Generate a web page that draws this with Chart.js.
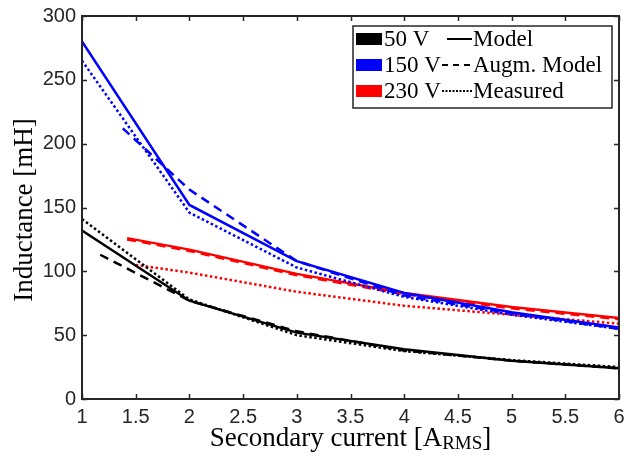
<!DOCTYPE html>
<html>
<head>
<meta charset="utf-8">
<script src="https://cdn.jsdelivr.net/npm/chart.js@4.4.0/dist/chart.umd.min.js"></script>
<style>
  html, body { margin: 0; padding: 0; background: #fff; }
  #wrap { width: 625px; height: 460px; }
</style>
</head>
<body>
<div id="wrap"><canvas id="myChart" width="625" height="460"></canvas></div>
<script>
// DATA
const currents = [1, 2, 3, 4, 5, 6];

const model50 = [132, 77, 52, 39, 30, 24];
const measured50 = [141, 78, 50, 37.5, 30.5, 25];
const augmX50 = [1.17, 2, 3, 4, 5, 6];
const augm50 = [113, 77, 53, 38, 30, 24];

const model150 = [280, 152, 108, 83, 68, 56];
const measured150 = [265, 146, 103, 80, 66, 55];
const augmX150 = [1.38, 2, 3, 4, 5, 6];
const augm150 = [212, 164, 108, 81, 67, 55];

const modelX230 = [1.42, 2, 3, 4, 5, 6];
const model230 = [126, 117, 98, 83, 72, 63.5];
const augm230 = [125, 116, 97, 82, 71, 62.5];
const measuredX230 = [1.5, 2, 3, 4, 5, 6];
const measured230 = [105, 99, 84, 73, 66, 59];

const voltageLabels = ['50 V', '150 V', '230 V'];
const voltageColors = ['#000000', '#0000ff', '#ff0000'];
const styleLabels = ['Model', 'Augm. Model', 'Measured'];

const DASHED = [9, 6];
const DOTTED = [2.5, 2.5];

const pts = (xs, ys) => xs.map((x, i) => ({ x: x, y: ys[i] }));

function line(xs, ys, color, dash) {
  return {
    data: pts(xs, ys),
    borderColor: color,
    backgroundColor: color,
    borderWidth: 2.5,
    borderDash: dash,
    pointRadius: 0,
    showLine: true,
    tension: 0,
    fill: false
  };
}

const data = {
  datasets: [
    line(currents, model50, voltageColors[0], []),
    line(augmX50, augm50, voltageColors[0], DASHED),
    line(currents, measured50, voltageColors[0], DOTTED),
    line(currents, model150, voltageColors[1], []),
    line(augmX150, augm150, voltageColors[1], DASHED),
    line(currents, measured150, voltageColors[1], DOTTED),
    line(modelX230, model230, voltageColors[2], []),
    line(modelX230, augm230, voltageColors[2], DASHED),
    line(measuredX230, measured230, voltageColors[2], DOTTED)
  ]
};

const AXIS = '#262626';
const SERIF = '"Liberation Serif", "DejaVu Serif", serif';
const SANS = '"Liberation Sans", Arial, sans-serif';

// box round the axes with inward ticks on all sides
const frame = {
  id: 'frame',
  afterDatasetsDraw(chart) {
    const { ctx, chartArea: { top, bottom, left, right }, scales: { x, y } } = chart;
    ctx.save();
    ctx.strokeStyle = AXIS;
    ctx.lineWidth = 1.5;
    const t = 5;
    x.ticks.forEach(tk => {
      const px = Math.round(x.getPixelForValue(tk.value)) + 0.5;
      ctx.beginPath();
      ctx.moveTo(px, bottom); ctx.lineTo(px, bottom - t);
      ctx.moveTo(px, top); ctx.lineTo(px, top + t);
      ctx.stroke();
    });
    y.ticks.forEach(tk => {
      const py = Math.round(y.getPixelForValue(tk.value)) + 0.5;
      ctx.beginPath();
      ctx.moveTo(left, py); ctx.lineTo(left + t, py);
      ctx.moveTo(right, py); ctx.lineTo(right - t, py);
      ctx.stroke();
    });
    ctx.lineWidth = 2;
    ctx.strokeRect(left, top, right - left, bottom - top);

    // axis titles
    ctx.fillStyle = '#000';
    ctx.textBaseline = 'alphabetic';
    const cx = (left + right) / 2;
    const a = 'Secondary current [A';
    const sub = 'RMS';
    const c = ']';
    ctx.font = '27px ' + SERIF;
    const wA = ctx.measureText(a).width;
    const wC = ctx.measureText(c).width;
    ctx.font = '19px ' + SERIF;
    const wS = ctx.measureText(sub).width;
    const sx = cx - (wA + wS + wC) / 2;
    const ty = 446;
    ctx.textAlign = 'left';
    ctx.font = '27px ' + SERIF;
    ctx.fillText(a, sx, ty);
    ctx.font = '19px ' + SERIF;
    ctx.fillText(sub, sx + wA, ty + 3);
    ctx.font = '27px ' + SERIF;
    ctx.fillText(c, sx + wA + wS, ty);

    ctx.translate(32, 210);
    ctx.rotate(-Math.PI / 2);
    ctx.textAlign = 'center';
    ctx.font = '27px ' + SERIF;
    ctx.fillText('Inductance [mH]', 0, 0);
    ctx.restore();
  }
};

// legend: colour swatches for voltage, line samples for model type
const legendBox = {
  id: 'legendBox',
  afterDraw(chart) {
    const { ctx } = chart;
    ctx.save();
    ctx.fillStyle = '#fff';
    ctx.fillRect(353, 26, 259, 82);
    ctx.strokeStyle = AXIS;
    ctx.lineWidth = 1.5;
    ctx.strokeRect(353, 26, 259, 82);
    ctx.font = '23px ' + SERIF;
    ctx.textBaseline = 'middle';
    ctx.textAlign = 'left';
    const rows = [39, 65, 91];
    const dashes = [[], [6, 5], [2, 1.5]];
    rows.forEach((ry, i) => {
      ctx.fillStyle = voltageColors[i];
      ctx.fillRect(356, ry - 6, 26, 12);
      ctx.fillStyle = '#000';
      ctx.fillText(voltageLabels[i], 384, ry + 1);
      ctx.beginPath();
      ctx.setLineDash(dashes[i]);
      ctx.strokeStyle = '#000';
      ctx.lineWidth = 2;
      ctx.moveTo(i === 0 ? 447 : 442, ry);
      ctx.lineTo(472, ry);
      ctx.stroke();
      ctx.setLineDash([]);
      ctx.fillText(styleLabels[i], 473, ry + 1);
    });
    ctx.restore();
  }
};

const config = {
  type: 'scatter',
  data,
  options: {
    responsive: false,
    animation: false,
    layout: { padding: { top: 16, right: 6, left: 0, bottom: 0 } },
    scales: {
      x: {
        type: 'linear',
        min: 1,
        max: 6,
        ticks: {
          stepSize: 0.5,
          color: AXIS,
          padding: 6,
          maxRotation: 0,
          font: { family: SANS, size: 20 },
          callback: (v) => String(v)
        },
        grid: { display: false, drawTicks: false },
        border: { display: false },
        afterFit: (s) => { s.height = 61; s.paddingLeft = 0; s.paddingRight = 0; }
      },
      y: {
        min: 0,
        max: 300,
        ticks: {
          stepSize: 50,
          color: AXIS,
          padding: 6,
          font: { family: SANS, size: 20 }
        },
        grid: { display: false, drawTicks: false },
        border: { display: false },
        afterFit: (s) => { s.width = 82; s.paddingTop = 0; s.paddingBottom = 0; }
      }
    },
    plugins: {
      legend: { display: false },
      tooltip: { enabled: false }
    }
  },
  plugins: [frame, legendBox]
};

const myChart = new Chart(document.getElementById('myChart'), config);
</script>
</body>
</html>
